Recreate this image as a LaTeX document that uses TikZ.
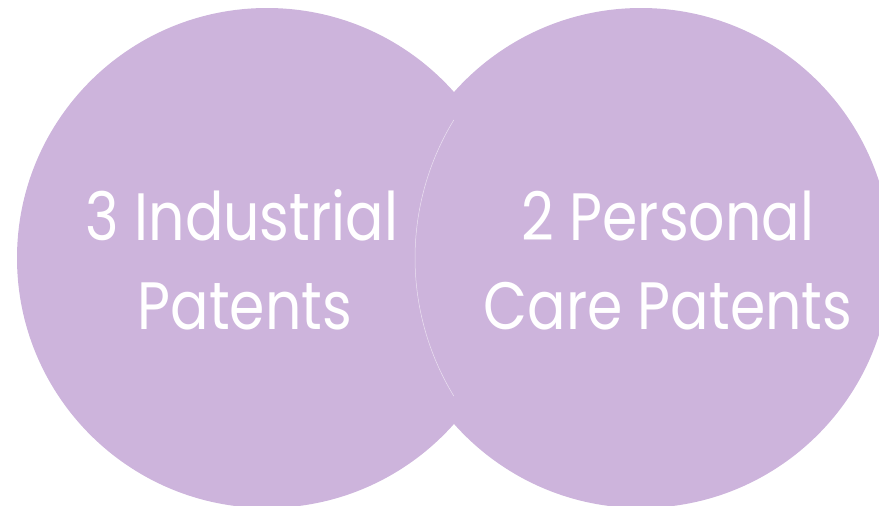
\documentclass[tikz,border=0pt]{standalone}
\usepackage{graphicx}
\usepackage{fontspec}
\setmainfont{Poppins}
\definecolor{lavender}{RGB}{205,180,220}
\newcommand{\narrowtext}[1]{\scalebox{0.85}[1]{#1}}
\begin{document}
\begin{tikzpicture}[x=1pt,y=-1pt,
  venn/.style={circle, fill=lavender, minimum size=500pt, inner sep=0pt},
  rim/.style={draw=white, draw opacity=0.6, line width=0.5pt},
  caption/.style={text=white, font=\fontsize{67}{67}\selectfont, anchor=base, inner sep=0pt}]
\useasboundingbox (0,0) rectangle (879,506);
\clip (0,0) rectangle (879,506);
% the two overlapping sets
\node[venn] (L) at (267,258) {};
\node[venn] (R) at (641,258) {};
% faint seam inside the overlap
\coordinate (seam) at (680,258);
\draw[rim] (seam) ++(148.6:265) arc[start angle=148.6, end angle=211.4, radius=265];
% set labels
\node[caption] (l1) at (242,240) {\narrowtext{3 Industrial}};
\node[caption] (l2) at (245,329) {\narrowtext{Patents}};
\node[caption] (r1) at (668,240) {\narrowtext{2 Personal}};
\node[caption] (r2) at (668,329) {\narrowtext{Care Patents}};
\end{tikzpicture}
\end{document}
